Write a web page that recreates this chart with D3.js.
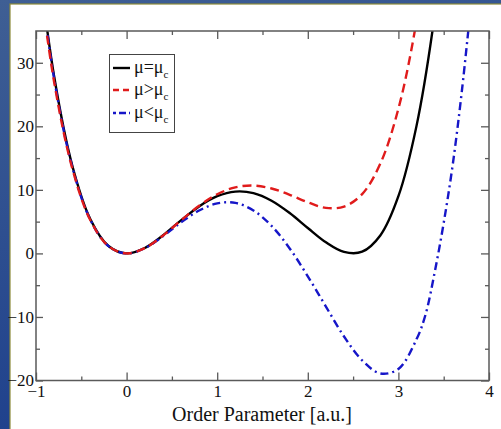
<!DOCTYPE html>
<html><head><meta charset="utf-8">
<script src="https://cdn.jsdelivr.net/npm/d3@7"></script>
<style>html,body{margin:0;padding:0;overflow:hidden;}</style>
</head><body>
<svg id="c" width="501" height="429"></svg>
<script>
// ---- data ----
const xs      = [-1.0,-0.8,-0.6,-0.4,-0.2,0,0.2,0.4,0.6,0.8,1.0,1.2,1.4,1.6,1.8,2.0,2.2,2.4,2.6,2.8,3.0,3.2,3.4,3.6];
const muEqual = [49,27.88,13.84,5.38,1.17,0,0.85,2.82,5.20,7.40,9.0,9.73,9.49,8.29,6.35,4.0,1.74,0.23,0.27,2.82,9.0,20.07,37.45,62.7];
const xsRed   = [-1.0,-0.8,-0.6,-0.4,-0.2,0,0.2,0.4,0.6,0.8,1.0,1.2,1.4,1.6,1.8,2.0,2.2,2.4,2.6,2.8,3.0,3.2,3.4];
const muGreater = [47.37,26.98,13.41,5.23,1.14,0,0.83,2.79,5.19,7.49,9.31,10.40,10.68,10.21,9.23,8.04,7.16,7.37,9.33,14.11,22.77,36.56,56.99];
const xsBlue  = [-1.0,-0.8,-0.6,-0.4,-0.2,0,0.2,0.4,0.6,0.8,1.0,1.2,1.4,1.6,1.8,2.0,2.2,2.4,2.6,2.8,3.0,3.2,3.3,3.4,3.5,3.6,3.7,3.8];
const muLess  = [48.42,27.51,13.63,5.29,1.14,0,0.82,2.69,4.87,6.75,7.88,7.95,6.76,4.33,0.78,-3.60,-8.37,-13.08,-16.83,-18.89,-18.18,-13.52,-9.6,-3.0,4.8,14.0,25.5,39];
const xTicks = [-1,0,1,2,3,4];
const xMinor = [-0.5,0.5,1.5,2.5,3.5];
const yTicks = [-20,-10,0,10,20,30];
const yMinor = [-15,-5,5,15,25];
const legendLabels = [["μ=μ","c"],["μ>μ","c"],["μ<μ","c"]];

const svg = d3.select("#c");
const defs = svg.append("defs");
const g = defs.append("linearGradient").attr("id","bg").attr("x1","0").attr("y1","0").attr("x2","0.3").attr("y2","1");
g.append("stop").attr("offset","0").attr("stop-color","#3f5f94");
g.append("stop").attr("offset","1").attr("stop-color","#1d3f8c");
svg.append("rect").attr("width",501).attr("height",429).attr("fill","url(#bg)");
svg.append("rect").attr("x",10).attr("y",4).attr("width",500).attr("height",440).attr("fill","#fff").attr("stroke","#8c8a3a").attr("stroke-width",1.2);

const L=36,R=489,T=31,B=380.5;
const x = d3.scaleLinear().domain([-1,4]).range([L,R]);
const y = d3.scaleLinear().domain([-20,35]).range([B,T]);

defs.append("clipPath").attr("id","clip").append("rect").attr("x",L).attr("y",T).attr("width",R-L).attr("height",B-T);

const SERIF = '"Liberation Serif"';
const axCol = "#5a5a5a";

function styleAxis(sel){
  sel.attr("font-family",null);
  sel.select(".domain").remove();
  sel.selectAll("line").attr("stroke",axCol).attr("stroke-width",1.3);
  sel.selectAll("text").style("font-family",SERIF).attr("font-size",17).attr("fill","#111");
}
svg.append("g").attr("transform",`translate(0,${B})`).call(d3.axisBottom(x).tickValues(xTicks).tickSize(-8).tickPadding(4).tickFormat(d3.format("d"))).call(styleAxis);
svg.append("g").attr("transform",`translate(0,${B})`).call(d3.axisBottom(x).tickValues(xMinor).tickSize(-4).tickFormat("")).call(styleAxis);
svg.append("g").attr("transform",`translate(0,${T})`).call(d3.axisTop(x).tickValues(xTicks).tickSize(-8).tickFormat("")).call(styleAxis);
svg.append("g").attr("transform",`translate(0,${T})`).call(d3.axisTop(x).tickValues(xMinor).tickSize(-4).tickFormat("")).call(styleAxis);
svg.append("g").attr("transform",`translate(${L},0)`).call(d3.axisLeft(y).tickValues(yTicks).tickSize(-7).tickPadding(2).tickFormat(d3.format("d"))).call(styleAxis);
svg.append("g").attr("transform",`translate(${L},0)`).call(d3.axisLeft(y).tickValues(yMinor).tickSize(-4).tickFormat("")).call(styleAxis);
svg.append("g").attr("transform",`translate(${R},0)`).call(d3.axisRight(y).tickValues(yTicks).tickSize(-8).tickFormat("")).call(styleAxis);
svg.append("g").attr("transform",`translate(${R},0)`).call(d3.axisRight(y).tickValues(yMinor).tickSize(-4).tickFormat("")).call(styleAxis);

const line = d3.line().x(d=>x(d[0])).y(d=>y(d[1])).curve(d3.curveCatmullRom.alpha(0.5));
const plot = svg.append("g").attr("clip-path","url(#clip)");
const series = [
  {xv:xs, yv:muEqual, color:"#000", dash:null},
  {xv:xsRed, yv:muGreater, color:"#e01b1b", dash:"9,5"},
  {xv:xsBlue, yv:muLess, color:"#1616c8", dash:"8,4,2,4"}
];
[series[0],series[2],series[1]].forEach(s=>{
  plot.append("path").datum(s.xv.map((v,i)=>[v,s.yv[i]]))
    .attr("d",line).attr("fill","none").attr("stroke",s.color)
    .attr("stroke-width",2.4).attr("stroke-dasharray",s.dash);
});

svg.append("rect").attr("x",L).attr("y",T).attr("width",R-L).attr("height",B-T)
  .attr("fill","none").attr("stroke",axCol).attr("stroke-width",1.5);

svg.append("text").attr("x",262).attr("y",421).attr("text-anchor","middle").style("font-family",SERIF)
  .attr("font-size",20).attr("fill","#111").text("Order Parameter [a.u.]");

const lg = svg.append("g");
lg.append("rect").attr("x",109.5).attr("y",54.5).attr("width",65).attr("height",78)
  .attr("fill","#fff").attr("stroke","#444").attr("stroke-width",1);
const rowY = [68,90,113];
series.forEach((s,i)=>{
  lg.append("line").attr("x1",113).attr("x2",130).attr("y1",rowY[i]).attr("y2",rowY[i])
    .attr("stroke",s.color).attr("stroke-width",2.4).attr("stroke-dasharray",s.dash? (i===1?"6,4":"3,3,7,3"):null);
  const t = lg.append("text").attr("x",134).attr("y",rowY[i]+5).style("font-family",SERIF)
    .attr("font-size",18).attr("fill","#111");
  t.append("tspan").text(legendLabels[i][0]);
  t.append("tspan").attr("dy",5).attr("font-size",11).text(legendLabels[i][1]);
});
</script>
</body></html>
